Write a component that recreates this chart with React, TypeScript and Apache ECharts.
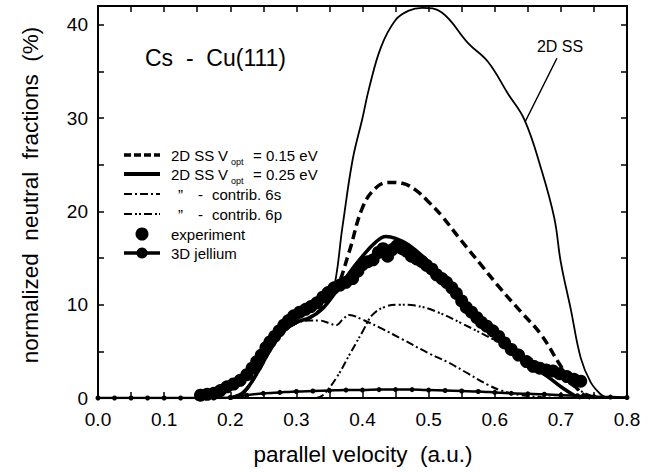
import React, { useEffect, useRef } from "react";
import * as echarts from "echarts";

// ---- data (parallel velocity [a.u.], normalized neutral fraction [%]) ----
const ss2dThin: [number, number][] = [
  [0.2, 0], [0.22, 0.6], [0.24, 2.6], [0.26, 5.1], [0.28, 7.1], [0.3, 8.1], [0.32, 8.6], [0.34, 9.6],
  [0.355, 11.2], [0.37, 18.5], [0.385, 25.5], [0.4, 30], [0.41, 33.2], [0.428, 37.6], [0.45, 40.5],
  [0.47, 41.5], [0.49, 41.8], [0.52, 41.3], [0.56, 38], [0.59, 36], [0.62, 32.6], [0.645, 29.8],
  [0.67, 24.6], [0.69, 19.3], [0.7, 14.5], [0.715, 9.5], [0.73, 4.3], [0.745, 1.7], [0.76, 0.4], [0.77, 0],
];
const ss015: [number, number][] = [
  [0.2, 0], [0.22, 0.6], [0.24, 2.6], [0.26, 5.1], [0.28, 7.1], [0.3, 8.1], [0.32, 8.6], [0.34, 9.7],
  [0.36, 11.6], [0.38, 15.7], [0.4, 20.4], [0.42, 22.5], [0.44, 23.1], [0.46, 23.0], [0.48, 22.3],
  [0.5, 21.0], [0.52, 19.5], [0.55, 16.8], [0.58, 14.2], [0.61, 11.6], [0.64, 9.2], [0.67, 6.8],
  [0.7, 3.4], [0.72, 1.4], [0.735, 0.3], [0.745, 0],
];
const ss025: [number, number][] = [
  [0.2, 0], [0.22, 0.6], [0.24, 2.6], [0.26, 5.1], [0.28, 7.1], [0.3, 8.1], [0.32, 8.6], [0.34, 9.6],
  [0.36, 11.4], [0.38, 13.4], [0.4, 15.2], [0.42, 16.7], [0.435, 17.3], [0.45, 17.1], [0.47, 16.4],
  [0.5, 14.6], [0.53, 12.3], [0.56, 9.9], [0.6, 6.9], [0.63, 4.8], [0.66, 3.3], [0.68, 2.3],
  [0.7, 1.2], [0.72, 0.3], [0.73, 0],
];
const contrib6s: [number, number][] = [
  [0.2, 0], [0.22, 0.6], [0.24, 2.6], [0.26, 5.1], [0.28, 7.1], [0.3, 8.0], [0.32, 8.3], [0.335, 8.3],
  [0.35, 8.0], [0.36, 7.8], [0.37, 8.4], [0.38, 8.9], [0.4, 8.4], [0.43, 7.4], [0.46, 6.3], [0.5, 4.8],
  [0.53, 3.8], [0.56, 2.6], [0.59, 1.4], [0.61, 0.8], [0.64, 0.3], [0.67, 0.1], [0.7, 0],
];
const contrib6p: [number, number][] = [
  [0.33, 0], [0.34, 0.3], [0.36, 2.1], [0.38, 4.6], [0.4, 7.1], [0.415, 8.9], [0.435, 9.8], [0.455, 10.0],
  [0.48, 9.9], [0.51, 9.3], [0.55, 8.0], [0.6, 6.2], [0.65, 4.4], [0.68, 3.2], [0.7, 2.2], [0.72, 1.2],
  [0.74, 0.4], [0.76, 0],
];
const experiment: [number, number][] = [
  [0.155, 0.3], [0.165, 0.4], [0.175, 0.5], [0.185, 0.8], [0.195, 1.2], [0.205, 1.5], [0.215, 1.9],
  [0.225, 2.5], [0.233, 3.2], [0.24, 3.9], [0.247, 4.6], [0.254, 5.4], [0.26, 6.0], [0.267, 6.6],
  [0.274, 7.2], [0.281, 7.8], [0.288, 8.3], [0.296, 8.8], [0.305, 9.2], [0.314, 9.5], [0.322, 9.8],
  [0.331, 10.2], [0.34, 10.8], [0.348, 11.3], [0.357, 11.8], [0.366, 12.1], [0.375, 12.4], [0.385, 12.8],
  [0.393, 13.6], [0.4, 14.3], [0.408, 14.6], [0.416, 14.8], [0.424, 15.6], [0.431, 16.0], [0.438, 15.2],
  [0.445, 15.9], [0.452, 16.3], [0.46, 16.0], [0.467, 15.7], [0.474, 15.2], [0.482, 14.9], [0.49, 14.6],
  [0.497, 14.2], [0.505, 13.8], [0.512, 13.2], [0.52, 12.8], [0.527, 12.4], [0.535, 11.8], [0.542, 11.2],
  [0.55, 10.4], [0.557, 9.7], [0.565, 9.2], [0.573, 8.6], [0.58, 8.1], [0.588, 7.7], [0.597, 7.2],
  [0.606, 6.6], [0.615, 5.9], [0.625, 5.2], [0.636, 4.6], [0.648, 3.9], [0.658, 3.4], [0.668, 3.2],
  [0.678, 3.0], [0.688, 2.9], [0.698, 2.6], [0.709, 2.3], [0.72, 2.0], [0.73, 1.8],
];
const jellium: [number, number][] = [
  [0.0, 0], [0.025, 0], [0.05, 0], [0.075, 0], [0.1, 0], [0.125, 0], [0.15, 0], [0.175, 0], [0.2, 0.05],
  [0.225, 0.3], [0.25, 0.5], [0.275, 0.6], [0.3, 0.7], [0.325, 0.75], [0.35, 0.8], [0.375, 0.85],
  [0.4, 0.85], [0.425, 0.9], [0.45, 0.9], [0.475, 0.9], [0.5, 0.85], [0.525, 0.8], [0.55, 0.75],
  [0.575, 0.7], [0.6, 0.6], [0.625, 0.5], [0.65, 0.45], [0.675, 0.4], [0.7, 0.3], [0.725, 0.25],
  [0.75, 0.15], [0.775, 0.1], [0.8, 0.05],
];
const ssLeader: [number, number][] = [[0.694, 36.4], [0.646, 29.6]];
const X_MIN = 0, X_MAX = 0.8, X_STEP = 0.05;
const Y_MIN = 0, Y_MAX = 42, Y_STEP = 5;

const FONT = "'Liberation Sans', Arial, Helvetica, sans-serif";
const GRID = { left: 98, right: 28, top: 6, bottom: 74, outerBoundsMode: "none" };

function mkTick(): any {
  return { show: true, inside: true, length: 6, lineStyle: { color: "#000", width: 1.5 } };
}
function mkLine(): any {
  return { show: true, onZero: false, lineStyle: { color: "#000", width: 2 } };
}
function hiddenAxis(min: number, max: number, step: number): any {
  return {
    type: "value", min, max, interval: step,
    axisLine: { show: false }, axisTick: { show: false }, axisLabel: { show: false }, splitLine: { show: false },
  };
}

// Frame, ticks and tick labels
function axesOption(): any {
  return {
    animation: false,
    grid: GRID,
    xAxis: [
      {
        type: "value", min: X_MIN, max: X_MAX, interval: X_STEP, position: "bottom",
        splitLine: { show: false }, axisLine: mkLine(), axisTick: mkTick(),
        axisLabel: {
          show: true, color: "#000", fontSize: 19, margin: 12, fontFamily: FONT,
          formatter: (v: number) => (Math.round(v * 100) % 10 === 0 ? v.toFixed(1) : ""),
        },
      },
      {
        type: "value", min: X_MIN, max: X_MAX, interval: X_STEP, position: "top",
        splitLine: { show: false }, axisLine: mkLine(), axisTick: mkTick(), axisLabel: { show: false },
      },
    ],
    yAxis: [
      {
        type: "value", min: Y_MIN, max: Y_MAX, interval: Y_STEP, position: "left",
        splitLine: { show: false }, axisLine: mkLine(), axisTick: mkTick(),
        axisLabel: {
          show: true, color: "#000", fontSize: 19, margin: 10, fontFamily: FONT,
          formatter: (v: number) => (v % 10 === 0 ? String(v) : ""),
        },
      },
      {
        type: "value", min: Y_MIN, max: Y_MAX, interval: Y_STEP, position: "right",
        splitLine: { show: false }, axisLine: mkLine(), axisTick: mkTick(), axisLabel: { show: false },
      },
    ],
  };
}

function dataOption(): any {
  const lbl = (s: string, x: number, y: number, size = 15, extra: any = {}, el: any = {}) => ({
    type: "text", x, y, silent: true, ...el,
    style: { text: s, font: `${size}px ${FONT}`, fill: "#000", verticalAlign: "middle", align: "left", ...extra },
  });
  const ln = (y: number, w: number, dash?: number[]) => {
    const style: any = { stroke: "#000", lineWidth: w };
    if (dash) style.lineDash = dash;
    return { type: "line", silent: true, shape: { x1: 124, y1: y, x2: 160, y2: y }, style };
  };
  const rows = [155, 174, 194, 214, 234, 253];
  return {
    animation: false,
    grid: GRID,
    xAxis: hiddenAxis(X_MIN, X_MAX, X_STEP),
    yAxis: hiddenAxis(Y_MIN, Y_MAX, Y_STEP),
    series: [
      {
        type: "line", data: jellium, smooth: 0.3, symbol: "circle", symbolSize: 5, showSymbol: true,
        itemStyle: { color: "#000", opacity: 1 }, lineStyle: { color: "#000", width: 2.5 },
      },
      {
        type: "scatter", data: experiment, symbol: "circle", symbolSize: 13,
        itemStyle: { color: "#000", opacity: 1 },
      },
      {
        type: "line", data: contrib6s, smooth: 0.4, showSymbol: false, symbol: "none",
        lineStyle: { color: "#000", width: 2, type: [8, 3, 2, 3] },
      },
      {
        type: "line", data: contrib6p, smooth: 0.4, showSymbol: false, symbol: "none",
        lineStyle: { color: "#000", width: 2, type: [8, 3, 2, 2, 2, 3] },
      },
      {
        type: "line", data: ss015, smooth: 0.4, showSymbol: false, symbol: "none",
        lineStyle: { color: "#000", width: 3.5, type: [9, 5] },
      },
      {
        type: "line", data: ss025, smooth: 0.4, showSymbol: false, symbol: "none",
        lineStyle: { color: "#000", width: 3.5 },
      },
      {
        type: "line", data: ss2dThin, smooth: 0.4, showSymbol: false, symbol: "none",
        lineStyle: { color: "#000", width: 1.8 },
        markLine: {
          silent: true, symbol: "none", label: { show: false },
          lineStyle: { color: "#000", width: 1.5, type: "solid" },
          data: [[{ coord: ssLeader[0] }, { coord: ssLeader[1] }]],
        },
      },
    ],
    graphic: [
      lbl("normalized  neutral  fractions  (%)", 30, 195, 22.5, { align: "center" }, { rotation: Math.PI / 2 }),
      lbl("parallel velocity  (a.u.)", 363, 454, 22.5, { align: "center" }),
      lbl("Cs  -  Cu(111)", 145, 58, 23),
      lbl("2D SS", 560, 46, 16, { align: "center" }),
      ln(rows[0], 3.5, [7, 3]),
      ln(rows[1], 4),
      ln(rows[2], 2, [8, 3, 2, 3]),
      ln(rows[3], 2, [8, 3, 2, 2, 2, 3]),
      { type: "circle", silent: true, shape: { cx: 142, cy: rows[4], r: 6.5 }, style: { fill: "#000" } },
      ln(rows[5], 3.5),
      { type: "circle", silent: true, shape: { cx: 142, cy: rows[5], r: 5.5 }, style: { fill: "#000" } },
      lbl("2D SS", 171, rows[0]), lbl("V", 218, rows[0]), lbl("opt", 231, rows[0] + 7, 9), lbl("= 0.15 eV", 253, rows[0]),
      lbl("2D SS", 171, rows[1]), lbl("V", 218, rows[1]), lbl("opt", 231, rows[1] + 7, 9), lbl("= 0.25 eV", 253, rows[1]),
      lbl("\u201D", 178, rows[2]), lbl("-", 198, rows[2]), lbl("contrib. 6s", 212, rows[2]),
      lbl("\u201D", 178, rows[3]), lbl("-", 198, rows[3]), lbl("contrib. 6p", 212, rows[3]),
      lbl("experiment", 171, rows[4]),
      lbl("3D jellium", 171, rows[5]),
    ],
  };
}

export default function App() {
  const axesRef = useRef<HTMLDivElement>(null);
  const dataRef = useRef<HTMLDivElement>(null);
  useEffect(() => {
    document.body.style.margin = "0";
    const axesChart = echarts.init(axesRef.current!, null, { renderer: "svg" });
    axesChart.setOption(axesOption());
    const dataChart = echarts.init(dataRef.current!, null, { renderer: "svg" });
    dataChart.setOption(dataOption());
    return () => {
      dataChart.dispose();
      axesChart.dispose();
    };
  }, []);
  return (
    <div style={{ position: "relative", width: 655, height: 472, background: "#fff" }}>
      <div ref={axesRef} style={{ position: "absolute", left: 0, top: 0, width: 655, height: 472 }} />
      <div ref={dataRef} style={{ position: "absolute", left: 0, top: 0, width: 655, height: 472, pointerEvents: "none" }} />
    </div>
  );
}
